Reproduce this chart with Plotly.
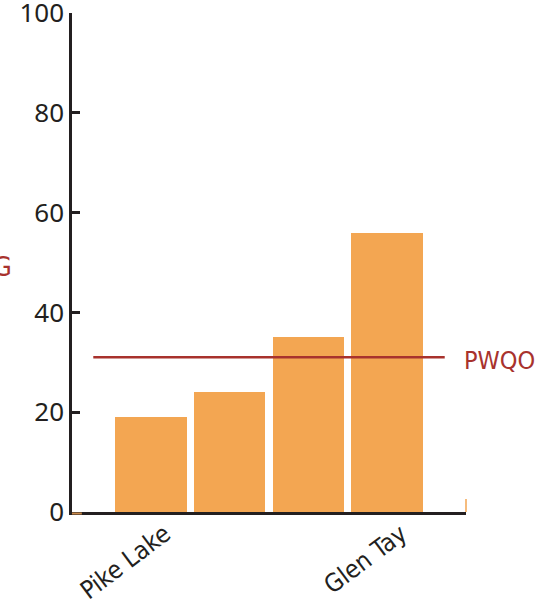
import plotly.graph_objects as go

categories = ["Pike Lake", "Site 2", "Site 3", "Glen Tay"]
values = [19, 24, 35, 56]
tick_labels = ["Pike Lake", "", "", "Glen Tay"]
pwqo_value = 31
pwqo_label = "PWQO"
y_ticks = [0, 20, 40, 60, 80, 100]

DARK = "#231f20"
ORANGE = "#f3a652"
RED = "#a8322d"
NARROW = "DejaVu Sans Condensed, Liberation Sans Narrow, Roboto, sans-serif"

x_idx = list(range(len(categories)))

fig = go.Figure()
fig.add_trace(go.Bar(x=x_idx, y=values, width=0.91, marker=dict(color=ORANGE, line=dict(width=0)),
                     hovertext=categories, showlegend=False))

fig.add_shape(type="line", xref="x", yref="y", x0=-0.73, x1=3.73, y0=pwqo_value, y1=pwqo_value,
              line=dict(color=RED, width=2.5))
# small orange slivers at the axis ends seen in the original graphic
fig.add_shape(type="line", xref="paper", yref="y", x0=1.0, x1=1.0, y0=0, y1=2.6,
              line=dict(color=ORANGE, width=1.5))
fig.add_shape(type="line", xref="paper", yref="paper", x0=0, x1=0.025, y0=-0.003, y1=-0.003,
              line=dict(color="#c8894a", width=2))
fig.add_annotation(xref="paper", yref="y", x=1.0, y=pwqo_value, xanchor="left", yanchor="middle",
                   xshift=-4, yshift=-3, text=pwqo_label, showarrow=False,
                   font=dict(family=NARROW, size=25, color=RED))
fig.add_annotation(xref="paper", yref="paper", x=0, y=0.5, xshift=-58, yshift=-4, xanchor="right", yanchor="middle",
                   text="G", showarrow=False, font=dict(family=NARROW, size=27, color=RED))

fig.update_layout(
    width=543, height=605,
    margin=dict(l=72, r=77, t=13, b=93),
    plot_bgcolor="white", paper_bgcolor="white",
    bargap=0,
    xaxis=dict(range=[-1, 4], tickvals=x_idx, ticktext=tick_labels, tickangle=-37, automargin=False,
               showline=True, linecolor=DARK, linewidth=2.5, ticks="", showgrid=False, zeroline=False,
               ticklabelshift=14, ticklabelstandoff=-5,
               tickfont=dict(family=NARROW, size=25, color=DARK)),
    yaxis=dict(range=[0, 100], tickvals=y_ticks, showline=True, linecolor=DARK, linewidth=2.5, automargin=False,
               ticks="inside", ticklen=8, tickwidth=2.5, tickcolor=DARK, showgrid=False, zeroline=False,
               ticklabeloverflow="allow",
               tickfont=dict(family="Noto Sans", size=26, color=DARK)),
)

fig.write_html("out.html", config={"displayModeBar": False},
               post_script="document.body.style.margin='0';document.body.style.overflow='hidden';")
